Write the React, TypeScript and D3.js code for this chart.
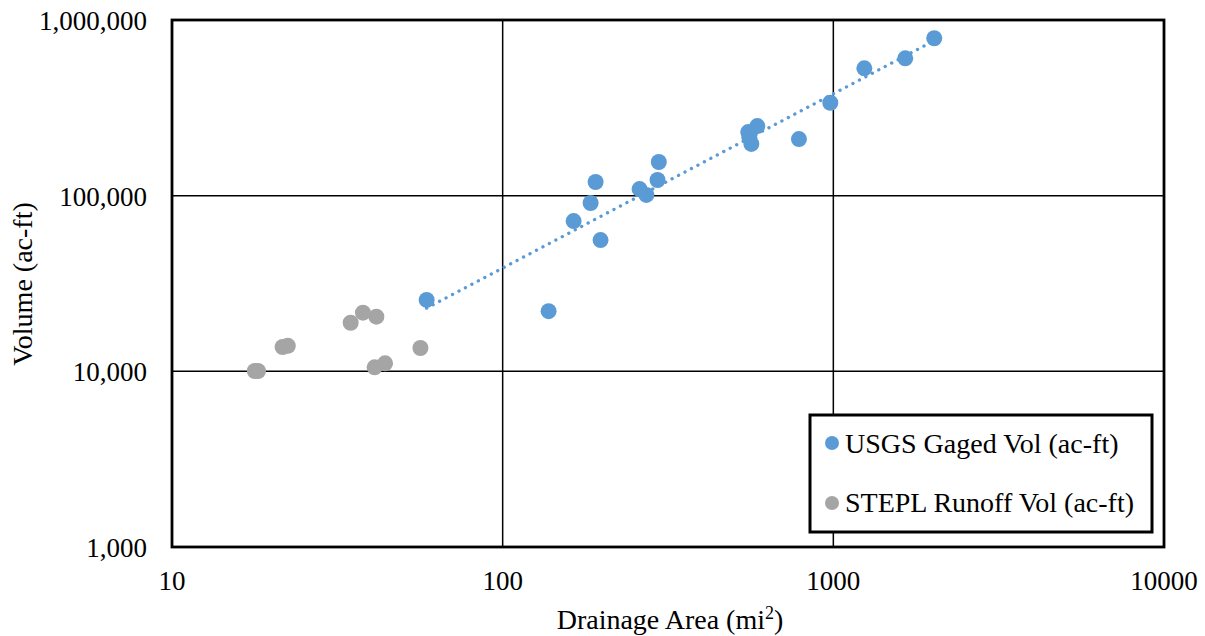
import React from "react";
import * as d3 from "d3";

const blueArea = [58.9, 137.7, 163.9, 184.5, 191, 197.7, 259.4, 272, 294, 296.6, 553, 557, 565, 589, 787, 979, 1241, 1650, 2019];
const blueVol = [25500, 22000, 71700, 90800, 119600, 55900, 109000, 101000, 122800, 155500, 230000, 215000, 197000, 249000, 210000, 338000, 531000, 605000, 787000];

const grayArea = [17.8, 18.2, 21.6, 22.4, 34.7, 37.8, 41.5, 41.0, 44.1, 56.4];
const grayVol = [10040, 10040, 13760, 13970, 18900, 21570, 20480, 10540, 11110, 13580];

const xTicks = [10, 100, 1000, 10000];
const yTicks = [1000, 10000, 100000, 1000000];

const seriesNames = ["USGS Gaged Vol (ac-ft)", "STEPL Runoff Vol (ac-ft)"];
const BLUE = "#5B9BD5";
const GRAY = "#A5A5A5";
const FONT = "Liberation Serif";
const ts = { fontFamily: FONT };

export default function App() {
  const W = 1205, H = 636;
  const L = 172, R = 1164, T = 20, B = 547;
  const x = d3.scaleLog().domain([10, 10000]).range([L, R]);
  const y = d3.scaleLog().domain([1000, 1000000]).range([B, T]);

  // power trendline via least squares in log-log space
  const lx = blueArea.map((v) => Math.log10(v));
  const ly = blueVol.map((v) => Math.log10(v));
  const mx = d3.mean(lx) as number;
  const my = d3.mean(ly) as number;
  let num = 0, den = 0;
  lx.forEach((v, i) => { num += (v - mx) * (ly[i] - my); den += (v - mx) * (v - mx); });
  const slope = num / den;
  const icpt = my - slope * mx;
  const xMin = d3.min(blueArea) as number;
  const xMax = d3.max(blueArea) as number;
  const trendPts = d3.range(0, 51).map((i) => {
    const lv = Math.log10(xMin) + (Math.log10(xMax) - Math.log10(xMin)) * i / 50;
    return [Math.pow(10, lv), Math.pow(10, icpt + slope * lv)] as [number, number];
  });
  const line = d3.line<[number, number]>().x((d) => x(d[0])).y((d) => y(d[1]));

  const fmt = d3.format(",");

  return (
    <svg width={W} height={H} style={{ position: "absolute", left: 0, top: 0, background: "#fff" }}>
      <rect x={0} y={0} width={W} height={H} fill="#fff" />
      {xTicks.slice(1, -1).map((t) => (
        <line key={"gx" + t} x1={x(t)} x2={x(t)} y1={T} y2={B} stroke="#000" strokeWidth={1.5} />
      ))}
      {yTicks.slice(1, -1).map((t) => (
        <line key={"gy" + t} x1={L} x2={R} y1={y(t)} y2={y(t)} stroke="#000" strokeWidth={1.5} />
      ))}
      <rect x={L} y={T} width={R - L} height={B - T} fill="none" stroke="#000" strokeWidth={2.8} />

      {yTicks.map((t) => (
        <text key={"ty" + t} style={ts} x={147} y={y(t) + 10} textAnchor="end" fontSize={27} fill="#000">{fmt(t)}</text>
      ))}
      {xTicks.map((t) => (
        <text key={"tx" + t} style={ts} x={x(t)} y={590} textAnchor="middle" fontSize={27} fill="#000">{t}</text>
      ))}

      {grayArea.map((a, i) => (
        <circle key={"g" + i} cx={x(a)} cy={y(grayVol[i])} r={8} fill={GRAY} />
      ))}
      {blueArea.map((a, i) => (
        <circle key={"b" + i} cx={x(a)} cy={y(blueVol[i])} r={8} fill={BLUE} />
      ))}
      <path d={line(trendPts) || ""} fill="none" stroke={BLUE} strokeWidth={3.3} strokeLinecap="round" strokeDasharray="0.1 7.2" />

      <text style={ts} x={670} y={629} textAnchor="middle" fontSize={28} fill="#000">
        Drainage Area (mi<tspan fontSize={18} dy={-10}>2</tspan><tspan dy={10}>)</tspan>
      </text>
      <text style={ts} transform="translate(32,284) rotate(-90)" textAnchor="middle" fontSize={28} fill="#000">Volume (ac-ft)</text>

      <rect x={810} y={415} width={342} height={117} fill="#fff" stroke="#000" strokeWidth={3} />
      <circle cx={832} cy={443} r={7} fill={BLUE} />
      <text style={ts} x={845} y={453} fontSize={28} fill="#000">{seriesNames[0]}</text>
      <circle cx={832} cy={503} r={7} fill={GRAY} />
      <text style={ts} x={845} y={512} fontSize={28} fill="#000">{seriesNames[1]}</text>
    </svg>
  );
}
